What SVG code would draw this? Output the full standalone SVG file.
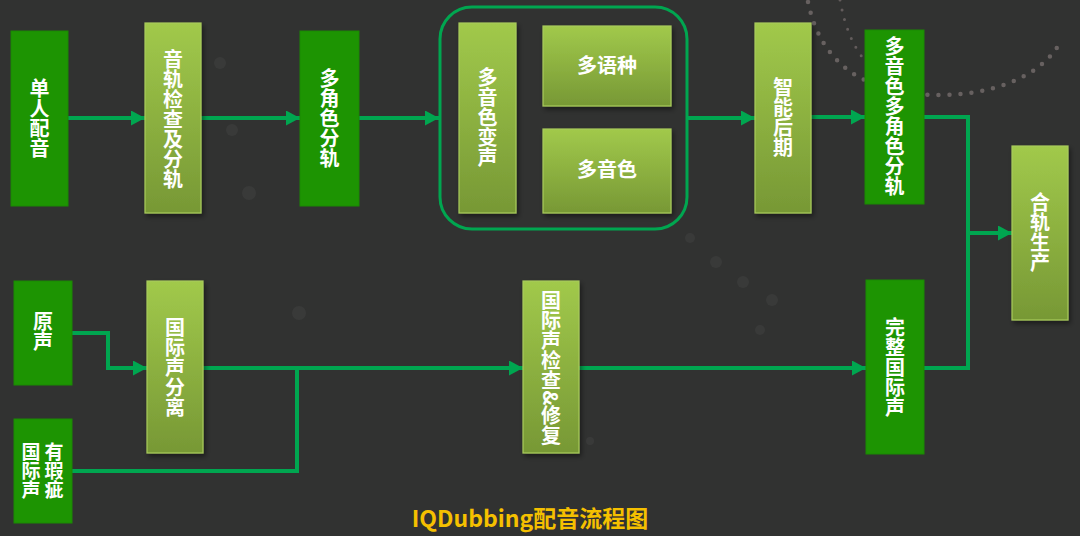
<svg xmlns="http://www.w3.org/2000/svg" width="1080" height="536" viewBox="0 0 1080 536">
<defs>
<linearGradient id="lg" x1="0" y1="0" x2="0" y2="1">
<stop offset="0" stop-color="#A1C94B"/>
<stop offset="1" stop-color="#779835"/>
</linearGradient>
<filter id="sh" x="-20%" y="-10%" width="150%" height="130%">
<feDropShadow dx="2" dy="3" stdDeviation="2.5" flood-color="#000" flood-opacity="0.45"/>
</filter>
<marker id="ah" markerUnits="userSpaceOnUse" markerWidth="14" markerHeight="15" refX="14" refY="7.5" orient="auto">
<path d="M0,0 L14,7.5 L0,15 z" fill="#00A650"/>
</marker>
<style>
.dk{fill:#1D9402;stroke:#1A8A02;stroke-width:1}
.lt{fill:url(#lg);stroke:#A8CB5C;stroke-width:1.2;filter:url(#sh)}
.t{font-family:"Noto Sans CJK SC","Noto Sans",sans-serif;font-weight:700;font-size:20px;fill:#FFFFFF;text-anchor:middle}
.v{writing-mode:vertical-rl}
.c{fill:none;stroke:#00A650;stroke-width:4}
.ca{fill:none;stroke:#00A650;stroke-width:4;marker-end:url(#ah)}
.dec{fill:#4a4a4a;opacity:0.35}
</style>
</defs>
<rect width="1080" height="536" fill="#313231"/>
<g id="decor">
<path d="M808,2 C820,60 860,95 940,95 C990,95 1038,78 1058,46" fill="none" stroke="#8c8080" stroke-width="4.5" stroke-linecap="round" stroke-dasharray="0 11" opacity="0.6"/>
<path d="M840,0 C845,28 854,48 866,62" fill="none" stroke="#8c8080" stroke-width="3" stroke-linecap="round" stroke-dasharray="0 10" opacity="0.55"/>
<circle class="dec" cx="220" cy="63" r="6"/>
<circle class="dec" cx="232" cy="130" r="6"/>
<circle class="dec" cx="249" cy="193" r="7"/>
<circle class="dec" cx="299" cy="313" r="7"/>
<circle class="dec" cx="743" cy="282" r="6"/>
<circle class="dec" cx="772" cy="300" r="6"/>
<circle class="dec" cx="590" cy="441" r="4"/>
<circle class="dec" cx="716" cy="262" r="6"/>
<circle class="dec" cx="760" cy="330" r="5"/>
<circle class="dec" cx="690" cy="238" r="5"/>
</g>
<g id="connectors">
<line class="ca" x1="68" y1="118" x2="145" y2="118"/>
<line class="ca" x1="201" y1="118" x2="300" y2="118"/>
<line class="ca" x1="359" y1="118" x2="439" y2="118"/>
<line class="ca" x1="688" y1="118" x2="755" y2="118"/>
<line class="ca" x1="811" y1="117" x2="865" y2="117"/>
<polyline class="c" points="924,117 968,117 968,368 924,368"/>
<line class="ca" x1="968" y1="233" x2="1012" y2="233"/>
<polyline class="ca" points="72,333 108,333 108,368 147,368"/>
<line class="ca" x1="203" y1="368" x2="523" y2="368"/>
<polyline class="c" points="72,471 297,471 297,368"/>
<line class="ca" x1="579" y1="368" x2="866" y2="368"/>
</g>
<g id="container">
<rect x="440" y="7" width="247" height="222" rx="32" fill="none" stroke="#00A650" stroke-width="3"/>
</g>
<g id="n1"><rect class="dk" x="11" y="31" width="57" height="175"/>
<text class="t v" x="39.5" y="118.5">单人配音</text></g>
<g id="n2"><rect class="lt" x="145" y="23" width="56" height="190"/>
<text class="t v" x="173" y="119.5">音轨检查及分轨</text></g>
<g id="n3"><rect class="dk" x="300" y="31" width="59" height="175"/>
<text class="t v" x="329.5" y="118.5">多角色分轨</text></g>
<g id="n4"><rect class="lt" x="459" y="23" width="57" height="190"/>
<text class="t v" x="487.5" y="117.5">多音色变声</text></g>
<g id="n5"><rect class="lt" x="543" y="26" width="128" height="80"/>
<text class="t" x="607" y="73">多语种</text></g>
<g id="n6"><rect class="lt" x="543" y="129" width="128" height="84"/>
<text class="t" x="607" y="177">多音色</text></g>
<g id="n7"><rect class="lt" x="755" y="23" width="56" height="190"/>
<text class="t v" x="783" y="117.5">智能后期</text></g>
<g id="n8"><rect class="dk" x="865" y="30" width="59" height="174"/>
<text class="t v" x="894.5" y="116.5">多音色多角色分轨</text></g>
<g id="n9"><rect class="lt" x="1012" y="146" width="56" height="174"/>
<text class="t v" x="1040" y="232.5">合轨生产</text></g>
<g id="n10"><rect class="dk" x="14" y="281" width="58" height="104"/>
<text class="t v" x="43" y="331.5">原声</text></g>
<g id="n11"><rect class="lt" x="147" y="281" width="56" height="172"/>
<text class="t v" x="175" y="367.5">国际声分离</text></g>
<g id="n12"><rect class="dk" x="14" y="419" width="58" height="104"/>
<text class="t v" x="54" y="471" style="font-size:19px">有瑕疵</text>
<text class="t v" x="31" y="471" style="font-size:19px">国际声</text></g>
<g id="n13"><rect class="lt" x="523" y="281" width="56" height="172"/>
<text class="t v" x="551" y="368">国际声检查&amp;修复</text></g>
<g id="n14"><rect class="dk" x="866" y="280" width="58" height="174"/>
<text class="t v" x="895" y="367.5">完整国际声</text></g>
<text id="title" x="530" y="527" font-family="'Noto Sans CJK SC','Noto Sans',sans-serif" font-weight="700" font-size="23" fill="#F5C000" text-anchor="middle">IQDubbing配音流程图</text>
</svg>
